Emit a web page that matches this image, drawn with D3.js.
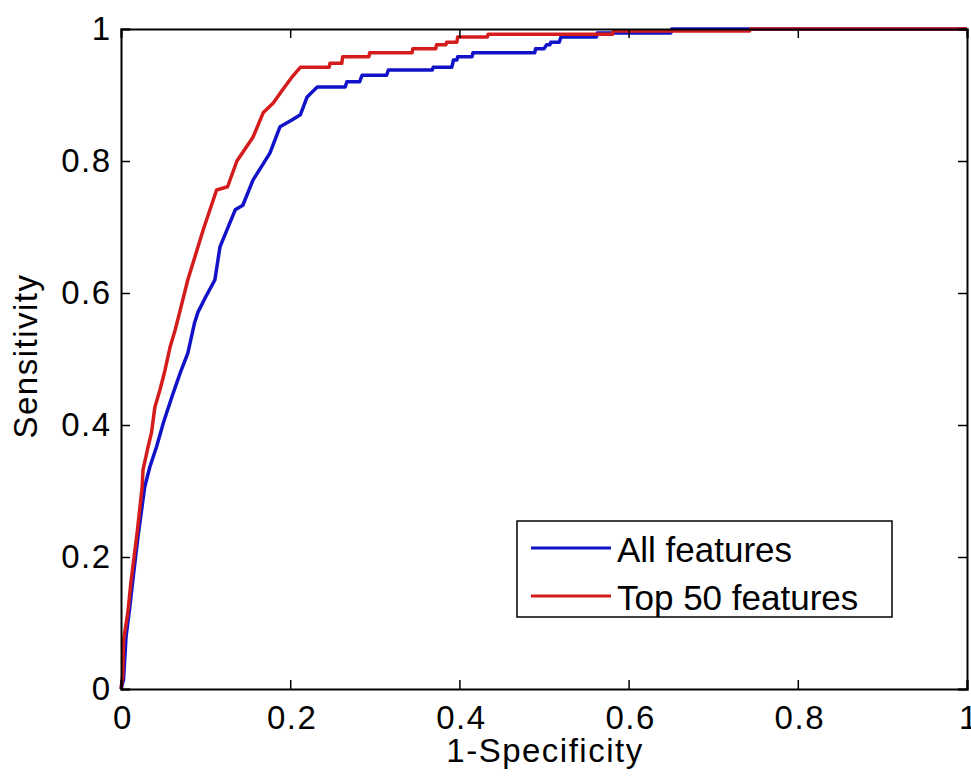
<!DOCTYPE html>
<html>
<head>
<meta charset="utf-8">
<script src="https://cdn.jsdelivr.net/npm/d3@7"></script>
<style>
  body { margin: 0; background: #fff; }
  text { font-family: "Liberation Sans", Arial, sans-serif; fill: #000; }
</style>
</head>
<body>
<div class="result"></div>
<script>
// ROC points: [1-specificity, sensitivity]
const allFeatures = [
  [0, 0], [0.003, 0.014], [0.006, 0.08], [0.01, 0.12], [0.014, 0.165], [0.02, 0.23],
  [0.028, 0.306], [0.034, 0.336], [0.042, 0.367], [0.05, 0.403], [0.06, 0.442],
  [0.07, 0.479], [0.079, 0.509], [0.087, 0.555], [0.091, 0.571], [0.1, 0.594],
  [0.111, 0.62], [0.117, 0.67], [0.135, 0.726], [0.144, 0.733], [0.156, 0.771],
  [0.176, 0.812], [0.188, 0.852], [0.202, 0.862], [0.212, 0.87], [0.22, 0.897],
  [0.232, 0.912], [0.265, 0.912], [0.267, 0.92], [0.282, 0.92], [0.285, 0.93],
  [0.314, 0.93], [0.316, 0.938], [0.368, 0.938], [0.369, 0.942], [0.391, 0.942],
  [0.393, 0.953], [0.397, 0.953], [0.398, 0.958], [0.415, 0.958], [0.416, 0.964],
  [0.489, 0.964], [0.49, 0.97], [0.5, 0.97], [0.503, 0.976], [0.507, 0.976],
  [0.508, 0.98], [0.518, 0.98], [0.52, 0.988], [0.562, 0.988], [0.563, 0.994],
  [0.65, 0.994], [0.651, 1], [1, 1]
];
const top50 = [
  [0, 0], [0.002, 0.02], [0.003, 0.074], [0.008, 0.115], [0.012, 0.165], [0.019, 0.236],
  [0.025, 0.306], [0.026, 0.332], [0.032, 0.367], [0.036, 0.388], [0.04, 0.427],
  [0.046, 0.453], [0.052, 0.483], [0.058, 0.518], [0.064, 0.544], [0.07, 0.574],
  [0.079, 0.62], [0.097, 0.695], [0.113, 0.756], [0.126, 0.761], [0.137, 0.8],
  [0.156, 0.836], [0.168, 0.873], [0.18, 0.888], [0.191, 0.908], [0.202, 0.927],
  [0.212, 0.942], [0.246, 0.942], [0.247, 0.948], [0.261, 0.948], [0.262, 0.958],
  [0.293, 0.958], [0.294, 0.964], [0.344, 0.964], [0.345, 0.97], [0.372, 0.97],
  [0.373, 0.976], [0.384, 0.976], [0.385, 0.98], [0.397, 0.98], [0.398, 0.988],
  [0.433, 0.988], [0.434, 0.992], [0.581, 0.992], [0.582, 0.997], [0.743, 0.997],
  [0.744, 1], [1, 1]
];
const seriesNames = ['All features', 'Top 50 features'];
const seriesColors = ['#1212c8', '#d41c1c'];
const tickValues = [0, 0.2, 0.4, 0.6, 0.8, 1];

const w = 971;
const h = 780;
const margin = { top: 29, right: 4, bottom: 91, left: 121 };

const x = d3.scaleLinear().domain([0, 1]).range([margin.left, w - margin.right]);
const y = d3.scaleLinear().domain([0, 1]).range([h - margin.bottom, margin.top]);

const svg = d3.select('.result')
  .append('svg')
  .attr('width', w)
  .attr('height', h);

// Curves
const line = d3.line()
  .x(d => x(d[0]))
  .y(d => y(d[1]));

[allFeatures, top50].forEach((data, i) => {
  svg.append('path')
    .datum(data)
    .attr('fill', 'none')
    .attr('stroke', seriesColors[i])
    .attr('stroke-width', 3.5)
    .attr('stroke-linejoin', 'round')
    .attr('d', line);
});

// Axes with inward ticks, box on all four sides
const tick = 9;
svg.append('g')
  .attr('transform', 'translate(0,' + y(0) + ')')
  .call(d3.axisBottom(x).tickValues(tickValues).tickSize(-tick).tickPadding(17).tickFormat(d => String(d)))
  .call(g => g.selectAll('text').attr('dx', 1.5));
svg.append('g')
  .attr('transform', 'translate(0,' + y(1) + ')')
  .call(d3.axisTop(x).tickValues(tickValues).tickSize(-tick).tickFormat(''));
svg.append('g')
  .attr('transform', 'translate(' + x(0) + ',0)')
  .call(d3.axisLeft(y).tickValues(tickValues).tickSize(-tick).tickPadding(9.5).tickFormat(d => String(d)));
svg.append('g')
  .attr('transform', 'translate(' + x(1) + ',0)')
  .call(d3.axisRight(y).tickValues(tickValues).tickSize(-tick).tickFormat(''));

svg.selectAll('.domain').attr('stroke', '#000').attr('stroke-width', 2);
svg.selectAll('.tick line').attr('stroke', '#000').attr('stroke-width', 1.5);
svg.selectAll('.tick text')
  .attr('font-size', 33)
  .attr('letter-spacing', 1.5)
  .style('font-family', '"Liberation Sans", Arial, sans-serif')
  .attr('fill', '#000');

// Axis labels
svg.append('text')
  .attr('x', (x(0) + x(1)) / 2 + 1)
  .attr('y', 762)
  .attr('text-anchor', 'middle')
  .attr('font-size', 33)
  .attr('letter-spacing', 1.5)
  .text('1-Specificity');
svg.append('text')
  .attr('transform', 'translate(37,' + ((y(0) + y(1)) / 2 - 3) + ') rotate(-90)')
  .attr('text-anchor', 'middle')
  .attr('font-size', 33)
  .attr('letter-spacing', 1.5)
  .text('Sensitivity');

// Legend
const legend = svg.append('g').attr('transform', 'translate(517,521)');
legend.append('rect')
  .attr('width', 375)
  .attr('height', 96)
  .attr('fill', '#fff')
  .attr('stroke', '#000')
  .attr('stroke-width', 1.5);
seriesNames.forEach((name, i) => {
  const yy = 27 + i * 48;
  legend.append('line')
    .attr('x1', 14).attr('x2', 94)
    .attr('y1', yy).attr('y2', yy)
    .attr('stroke', seriesColors[i])
    .attr('stroke-width', 3);
  legend.append('text')
    .attr('x', 100)
    .attr('y', yy + 14)
    .attr('font-size', 35)
    .text(name);
});
</script>
</body>
</html>
